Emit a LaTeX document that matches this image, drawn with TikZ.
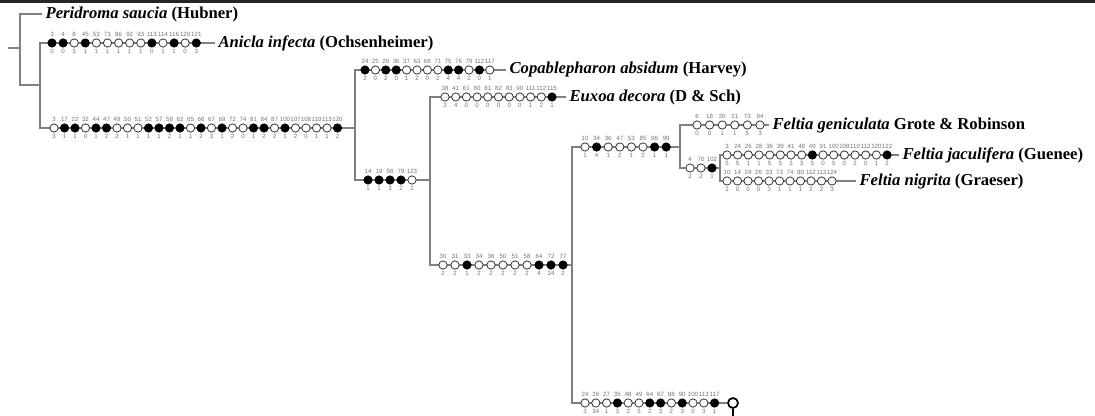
\documentclass[tikz,border=0pt]{standalone}
\usepackage{fontspec}
\setmainfont{Liberation Serif}
\newfontfamily\numfont{Liberation Sans}
\usetikzlibrary{positioning}

\tikzset{
	branch/.style={draw=black!50, line width=1.3pt},
	hpl/.style={circle, draw=black!80, fill=white, line width=0.6pt, inner sep=0pt, minimum size=6.2pt},
	syn/.style={hpl, draw=black, fill=black},
	num/.style={text=black!55, inner sep=0pt, font=\numfont\fontsize{4.6}{5}\selectfont},
	taxon/.style={anchor=west, inner sep=2.5pt, font=\bfseries\fontsize{12.5}{13}\selectfont}
}
% row of characters on a branch: name, first x, y, step, list of state/char/value
\newcommand{\charrow}[5]{%
	\foreach \s/\t/\b [count=\i from 0] in {#5} {
		\node[\s] (#1-\i) at ({#2+\i*#4}, #3) {};
		\node[num, above=1pt of #1-\i] {\t};
		\node[num, below=1pt of #1-\i] {\b};
	}}

\begin{document}
\begin{tikzpicture}[x=0.75pt, y=-0.75pt]
	\useasboundingbox (0,0) rectangle (1095,416);
	\fill[black!85] (0,0) rectangle (1095,3.5);

	% tree
	\coordinate (rt) at (8,48);
	\coordinate (n0) at (20,48);
	\coordinate (n1) at (40,85);
	\coordinate (n2) at (355,128);
	\coordinate (n3) at (430,180);
	\coordinate (n4) at (572,265);
	\coordinate (n5) at (680,147);
	\coordinate (n6) at (720,168);
	\coordinate (rb) at (733,420);

	\node[taxon] (ps) at (42,14) {\textit{Peridroma saucia} (Hubner)};
	\node[taxon] (ai) at (215,43) {\textit{Anicla infecta} (Ochsenheimer)};
	\node[taxon] (ca) at (506,70) {\textit{Copablepharon absidum} (Harvey)};
	\node[taxon] (ed) at (566,97) {\textit{Euxoa decora} (D \& Sch)};
	\node[taxon] (fg) at (769,125) {\textit{Feltia geniculata} Grote \& Robinson};
	\node[taxon] (fj) at (899,155) {\textit{Feltia jaculifera} (Guenee)};
	\node[taxon] (fn) at (856,181) {\textit{Feltia nigrita} (Graeser)};
	\node[circle, draw=black, line width=1.3pt, minimum size=7.5pt, inner sep=0pt] (ring) at (733,403) {};

	\draw[branch] (rt) -- (n0);
	\draw[branch] (n0) |- (ps.west);
	\draw[branch] (n0) |- (n1);
	\draw[branch] (n1) |- (ai.west);
	\draw[branch] (n1) |- (n2);
	\draw[branch] (n2) |- (ca.west);
	\draw[branch] (n2) |- (n3);
	\draw[branch] (n3) |- (ed.west);
	\draw[branch] (n3) |- (n4);
	\draw[branch] (n4) |- (n5);
	\draw[branch] (n5) |- (fg.west);
	\draw[branch] (n5) |- (n6);
	\draw[branch] (n6) |- (fj.west);
	\draw[branch] (n6) |- (fn.west);
	\draw[branch] (n4) |- (ring.west);
	\draw[line width=1.3pt] (ring.south) -- (rb);

	% characters
	\charrow{ai}{52}{43}{11.1}{syn/3/0, syn/4/0, hpl/8/3, syn/45/1, hpl/53/1, hpl/71/1, hpl/86/1, hpl/92/1, hpl/93/1, syn/113/0, hpl/114/1, syn/116/1, hpl/120/0, syn/121/3}
	\charrow{bg}{54}{128}{10.5}{hpl/3/3, syn/17/1, syn/22/1, hpl/32/0, syn/44/1, syn/47/2, hpl/49/2, hpl/50/1, hpl/51/1, syn/52/1, syn/57/1, syn/58/2, syn/62/1, hpl/65/1, syn/66/2, hpl/67/3, syn/69/1, hpl/72/2, hpl/74/0, syn/81/1, syn/84/2, hpl/87/2, syn/100/1, hpl/107/2, hpl/108/0, hpl/110/1, hpl/113/1, syn/120/2}
	\charrow{ca}{365}{70}{10.4}{syn/24/2, hpl/25/0, syn/26/2, syn/36/0, hpl/37/1, hpl/63/2, hpl/68/0, hpl/71/2, syn/75/4, syn/76/4, hpl/79/2, syn/112/0, hpl/117/1}
	\charrow{cl}{368}{180}{11}{syn/14/1, syn/19/1, syn/58/3, syn/78/2, hpl/123/2}
	\charrow{ed}{445}{97}{10.7}{hpl/38/3, hpl/41/4, hpl/61/0, hpl/80/0, hpl/81/0, hpl/82/0, hpl/83/0, hpl/90/0, hpl/111/1, hpl/112/2, syn/115/1}
	\charrow{cm}{443}{265}{12}{hpl/30/2, hpl/31/2, syn/33/1, hpl/34/2, hpl/36/2, hpl/50/2, hpl/51/2, hpl/58/2, syn/64/4, syn/72/34, syn/77/2}
	\charrow{fe}{585}{147}{11.6}{hpl/10/1, syn/34/4, hpl/36/1, hpl/47/2, hpl/53/1, hpl/85/2, syn/96/1, syn/99/1}
	\charrow{fg}{697}{125}{12.6}{hpl/6/0, hpl/18/0, hpl/20/1, hpl/21/1, hpl/73/5, hpl/94/3}
	\charrow{fs}{690}{168}{11}{hpl/4/2, hpl/70/2, syn/102/1}
	\charrow{fj}{727}{155}{10.67}{hpl/3/5, hpl/24/5, hpl/26/1, hpl/28/1, hpl/36/5, hpl/39/5, hpl/41/3, hpl/48/3, syn/49/5, hpl/91/0, hpl/100/5, hpl/108/0, hpl/110/2, hpl/112/0, hpl/120/1, syn/122/2}
	\charrow{fn}{727}{181}{10.5}{hpl/10/2, hpl/14/0, hpl/24/0, hpl/26/0, hpl/33/3, hpl/73/1, hpl/74/1, hpl/80/1, hpl/112/2, hpl/113/2, hpl/124/3}
	\charrow{bt}{585}{403}{10.8}{hpl/24/3, hpl/26/34, hpl/27/1, syn/35/3, hpl/48/2, hpl/49/5, syn/64/2, syn/67/3, hpl/88/2, syn/90/3, hpl/100/0, hpl/113/3, syn/117/1}
\end{tikzpicture}
\end{document}
